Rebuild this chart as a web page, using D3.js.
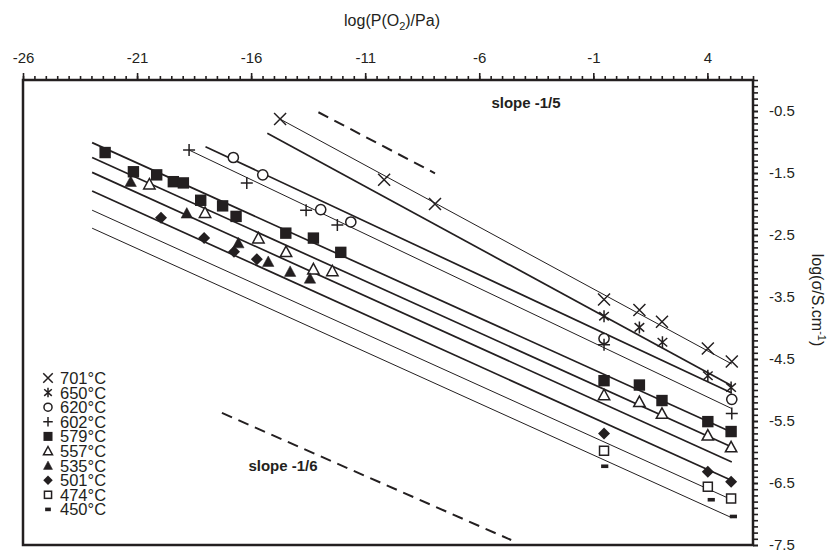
<!DOCTYPE html>
<html>
<head>
<meta charset="utf-8">
<script src="https://cdn.jsdelivr.net/npm/d3@7"></script>
<style>
  body { margin: 0; background: #fff; }
  text { font-family: "Liberation Sans", Arial, sans-serif; fill: #231f20; }
</style>
</head>
<body>
<div id="chart"></div>
<script>
// data: x = log(P(O2)/Pa), y = log(sigma/S.cm-1)
var temps = ["701°C", "650°C", "620°C", "602°C", "579°C", "557°C", "535°C", "501°C", "474°C", "450°C"];
var shapes = ["x", "star", "circle", "plus", "fsq", "otri", "ftri", "diam", "osq", "dash"];

var x701 = [-14.73, -10.17, -7.94, -0.53, 1.02, 2.01, 4.02, 5.07];
var y701 = [-0.63, -1.61, -2.0, -3.54, -3.71, -3.90, -4.33, -4.54];
var x650 = [-0.53, 1.02, 2.03, 4.02, 5.04];
var y650 = [-3.81, -3.99, -4.23, -4.77, -4.96];
var x620 = [-16.78, -15.49, -12.95, -11.63, -0.53, 5.07];
var y620 = [-1.25, -1.53, -2.09, -2.29, -4.17, -5.15];
var x602 = [-18.72, -16.19, -13.59, -12.22, -0.53, 5.07];
var y602 = [-1.13, -1.66, -2.10, -2.34, -4.27, -5.38];
var x579 = [-22.4, -21.16, -20.14, -19.41, -18.97, -18.21, -17.25, -16.66, -14.48, -13.27, -12.07, -0.53, 1.02, 2.01, 4.02, 5.04];
var y579 = [-1.17, -1.48, -1.53, -1.64, -1.66, -1.94, -2.03, -2.20, -2.47, -2.55, -2.78, -4.85, -4.92, -5.17, -5.51, -5.67];
var x557 = [-20.46, -18.02, -15.68, -14.47, -13.27, -12.44, -0.53, 1.02, 2.01, 4.02, 5.04];
var y557 = [-1.68, -2.14, -2.55, -2.77, -3.05, -3.08, -5.08, -5.19, -5.38, -5.73, -5.92];
var x535 = [-21.28, -18.82, -16.56, -15.25, -14.29, -13.42];
var y535 = [-1.64, -2.15, -2.63, -2.93, -3.09, -3.20];
var x501 = [-19.95, -18.06, -16.75, -15.75, -0.53, 4.02, 5.04];
var y501 = [-2.22, -2.55, -2.77, -2.89, -5.70, -6.32, -6.48];
var x474 = [-0.53, 4.02, 5.04];
var y474 = [-5.98, -6.56, -6.75];
var x450 = [-0.5, 4.17, 5.14];
var y450 = [-6.23, -6.77, -7.04];

// fitted lines: start x, start y, end x, end y, per temperature
var lineX0 = [-14.73, -15.29, -18.0, -18.72, -22.97, -22.97, -22.97, -22.97, -22.97, -22.97];
var lineY0 = [-0.63, -0.86, -1.075, -1.13, -1.01, -1.25, -1.49, -1.79, -2.10, -2.39];
var lineX1 = [5.07, 5.07, 5.07, 5.07, 5.07, 5.07, 5.07, 5.07, 5.07, 5.07];
var lineY1 = [-4.58, -4.93, -5.05, -5.30, -5.68, -5.92, -6.16, -6.46, -6.77, -7.06];
var lineBold = [false, true, true, false, true, true, true, true, false, false];

// dashed slope guides
var guideX = [[-13.05, -7.94], [-17.28, -4.6]];
var guideY = [[-0.52, -1.505], [-5.37, -7.42]];
var guideText = ["slope -1/5", "slope -1/6"];

var xTicks = [-26, -21, -16, -11, -6, -1, 4];
var yTicks = [-0.5, -1.5, -2.5, -3.5, -4.5, -5.5, -6.5, -7.5];

var xs = [x701, x650, x620, x602, x579, x557, x535, x501, x474, x450];
var ys = [y701, y650, y620, y602, y579, y557, y535, y501, y474, y450];

var ink = "#231f20";
var width = 838, height = 551;
var margin = {left: 23, right: 85, top: 80, bottom: 6};

var svg = d3.select("#chart")
    .append("svg")
    .attr("width", width)
    .attr("height", height);

var x = d3.scaleLinear().domain([-26, 6]).range([margin.left, width - margin.right]);
var y = d3.scaleLinear().domain([-7.5, 0]).range([height - margin.bottom, margin.top]);

// fit lines
var lines = svg.append("g");
temps.forEach(function(t, i) {
    lines.append("line")
        .attr("x1", x(lineX0[i])).attr("y1", y(lineY0[i]))
        .attr("x2", x(lineX1[i])).attr("y2", y(lineY1[i]))
        .attr("stroke", ink)
        .attr("stroke-width", lineBold[i] ? 1.7 : 1);
});

// slope guides
guideX.forEach(function(gx, i) {
    svg.append("line")
        .attr("x1", x(gx[0])).attr("y1", y(guideY[i][0]))
        .attr("x2", x(gx[1])).attr("y2", y(guideY[i][1]))
        .attr("stroke", ink)
        .attr("stroke-width", 2)
        .attr("stroke-dasharray", "11,7");
});
svg.append("text").attr("x", 526).attr("y", 108)
    .attr("text-anchor", "middle").style("font-size", "15px").style("font-weight", "bold")
    .text(guideText[0]);
svg.append("text").attr("x", 283).attr("y", 471)
    .attr("text-anchor", "middle").style("font-size", "15px").style("font-weight", "bold")
    .text(guideText[1]);

// marker drawing
function marker(g, shape, s) {
    var h = s / 2;
    if (shape === "x") {
        g.append("path").attr("d", `M${-h},${-h}L${h},${h}M${-h},${h}L${h},${-h}`)
            .attr("stroke", ink).attr("stroke-width", 1.5).attr("fill", "none");
    } else if (shape === "star") {
        g.append("path").attr("d", `M${-h * 0.8},${-h * 0.7}L${h * 0.8},${h * 0.7}M${-h * 0.8},${h * 0.7}L${h * 0.8},${-h * 0.7}M0,${-h}L0,${h}`)
            .attr("stroke", ink).attr("stroke-width", 1.5).attr("fill", "none");
    } else if (shape === "circle") {
        g.append("circle").attr("r", h * 0.85)
            .attr("stroke", ink).attr("stroke-width", 1.5).attr("fill", "#fff");
    } else if (shape === "plus") {
        g.append("path").attr("d", `M${-h},0H${h}M0,${-h}V${h}`)
            .attr("stroke", ink).attr("stroke-width", 1.5).attr("fill", "none");
    } else if (shape === "fsq") {
        g.append("rect").attr("x", -h * 0.95).attr("y", -h * 0.95)
            .attr("width", s * 0.95).attr("height", s * 0.95).attr("fill", ink);
    } else if (shape === "otri" || shape === "ftri") {
        g.append("path").attr("d", `M0,${-h * 0.95}L${h * 0.95},${h * 0.8}L${-h * 0.95},${h * 0.8}Z`)
            .attr("stroke", ink).attr("stroke-width", shape === "otri" ? 1.5 : 0.5)
            .attr("fill", shape === "otri" ? "#fff" : ink);
    } else if (shape === "diam") {
        g.append("path").attr("d", `M0,${-h}L${h},0L0,${h}L${-h},0Z`).attr("fill", ink);
    } else if (shape === "osq") {
        g.append("rect").attr("x", -h * 0.75).attr("y", -h * 0.75)
            .attr("width", s * 0.75).attr("height", s * 0.75)
            .attr("stroke", ink).attr("stroke-width", 1.5).attr("fill", "#fff");
    } else if (shape === "dash") {
        g.append("rect").attr("x", -h * 0.6).attr("y", -1.8)
            .attr("width", s * 0.6).attr("height", 3.6).attr("fill", ink);
    }
}

// points
temps.forEach(function(t, i) {
    var pts = xs[i].map(function(v, k) { return [v, ys[i][k]]; });
    pts.forEach(function(p) {
        var g = svg.append("g").attr("transform", `translate(${x(p[0])},${y(p[1])})`);
        marker(g, shapes[i], 12);
    });
});

// frame
svg.append("rect")
    .attr("x", x(-26)).attr("y", y(0))
    .attr("width", x(6) - x(-26)).attr("height", y(-7.5) - y(0))
    .attr("fill", "none").attr("stroke", ink).attr("stroke-width", 2.5);

// top axis
var topMinor = svg.append("g").attr("transform", `translate(0,${y(0)})`)
    .call(d3.axisTop(x).tickValues(d3.range(0, 65).map(function(i) { return -26 + i * 0.5; }))
        .tickSize(4).tickFormat(""));
var topMajor = svg.append("g").attr("transform", `translate(0,${y(0)})`)
    .call(d3.axisTop(x).tickValues(xTicks).tickSize(7).tickPadding(10)
        .tickFormat(function(d) { return String(d); }));
[topMinor, topMajor].forEach(function(a) {
    a.select(".domain").remove();
    a.selectAll("line").attr("stroke", ink).attr("stroke-width", 1.6);
});
topMajor.selectAll("text").style("font-size", "15px").style("font-family", "Liberation Sans, Arial").attr("fill", ink);

// right axis
var rightMinor = svg.append("g").attr("transform", `translate(${x(6)},0)`)
    .call(d3.axisRight(y).tickValues(d3.range(0, 76).map(function(i) { return -7.5 + i * 0.1; }))
        .tickSize(5).tickFormat(""));
var rightMajor = svg.append("g").attr("transform", `translate(${x(6)},0)`)
    .call(d3.axisRight(y).tickValues(yTicks).tickSize(5).tickPadding(11)
        .tickFormat(function(d) { return String(d); }));
[rightMinor, rightMajor].forEach(function(a) {
    a.select(".domain").remove();
    a.selectAll("line").attr("stroke", ink).attr("stroke-width", 1.6);
});
rightMajor.selectAll("text").style("font-size", "15px").style("font-family", "Liberation Sans, Arial").attr("fill", ink);

// axis titles
var tt = svg.append("text").attr("x", 392).attr("y", 26)
    .attr("text-anchor", "middle").style("font-size", "16px");
tt.append("tspan").text("log(P(O");
tt.append("tspan").attr("dy", 4).style("font-size", "11px").text("2");
tt.append("tspan").attr("dy", -4).text(")/Pa)");

var rt = svg.append("text")
    .attr("transform", "translate(812,300) rotate(90)")
    .attr("text-anchor", "middle").style("font-size", "16px");
rt.append("tspan").text("log(σ/S.cm");
rt.append("tspan").attr("dy", -6).style("font-size", "11px").text("-1");
rt.append("tspan").attr("dy", 6).text(")");

// legend
var legend = svg.append("g");
temps.forEach(function(t, i) {
    var ly = 378 + i * 14.6;
    var g = legend.append("g").attr("transform", `translate(48,${ly})`);
    marker(g, shapes[i], 9.5);
    legend.append("text").attr("x", 60).attr("y", ly)
        .attr("dy", "0.36em").style("font-size", "16.5px").text(t);
});
</script>
</body>
</html>
